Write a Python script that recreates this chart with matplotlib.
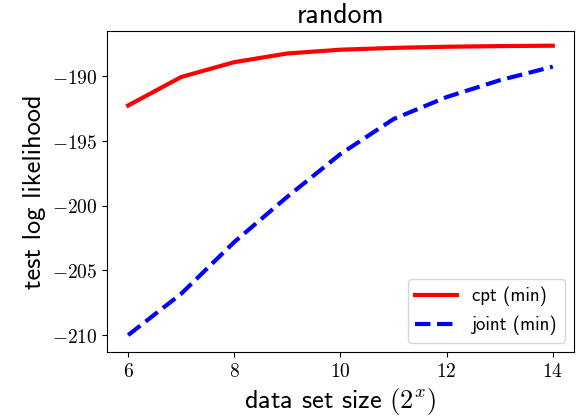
# test log likelihood vs data set size, "random"
import matplotlib
matplotlib.use("Agg")
import matplotlib.pyplot as plt
from matplotlib.ticker import FuncFormatter

# datos
sizes = [6, 7, 8, 9, 10, 11, 12, 13, 14]
cpt_min = [-192.25, -190.05, -188.9, -188.23, -187.94, -187.8, -187.71, -187.66, -187.63]
joint_min = [-210.0, -206.8, -202.8, -199.3, -196.0, -193.3, -191.6, -190.3, -189.25]

plt.rcParams["mathtext.fontset"] = "cm"
sans = ["cmss10", "DejaVu Sans"]

fig = plt.figure(figsize=(5.81, 4.2), dpi=100)
ax = fig.add_axes([0.184, 0.162, 0.804, 0.764])

ax.plot(sizes, cpt_min, color="red", linewidth=3, label="cpt (min)")
ax.plot(sizes, joint_min, color="blue", linewidth=3, linestyle="--", label="joint (min)")

ax.set_xticks([6, 8, 10, 12, 14])
ax.set_yticks([-190, -195, -200, -205, -210])
fmt = FuncFormatter(lambda v, pos: "$%g$" % v)
ax.xaxis.set_major_formatter(fmt)
ax.yaxis.set_major_formatter(fmt)
ax.tick_params(labelsize=14)

ax.set_ylim(-211.3, -186.5)
ax.set_title("random", fontsize=20, family=sans)
ax.set_xlabel("data set size $(2^x)$", fontsize=19, family=sans)
ax.set_ylabel("test log likelihood", fontsize=19, family=sans)
ax.legend(loc="lower right", prop={"family": sans, "size": 13.5}, handlelength=2.2)

fig.savefig("out.png", dpi=100)
